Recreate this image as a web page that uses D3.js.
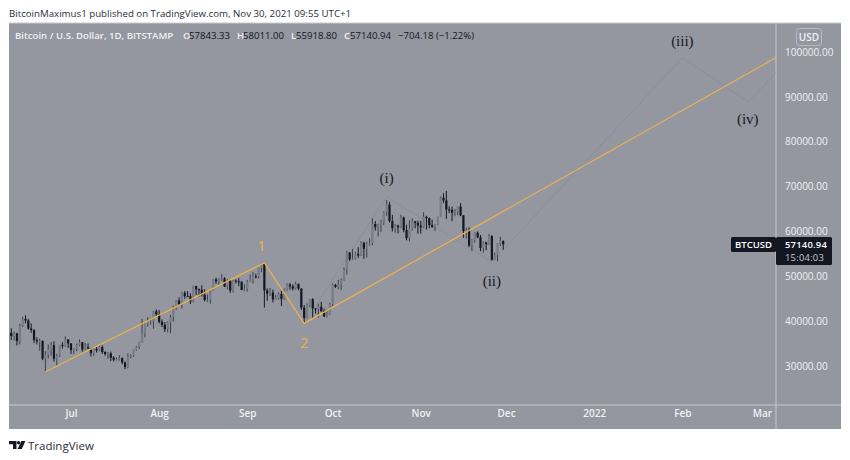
<!DOCTYPE html>
<html><head><meta charset="utf-8">
<script src="https://cdn.jsdelivr.net/npm/d3@7/dist/d3.min.js"></script>
<style>html,body{margin:0;padding:0;background:#fff;overflow:hidden}svg{display:block;font-family:"Open Sans",sans-serif}</style>
</head><body><svg id="c" width="850" height="460"></svg>
<script>
const firstDay = "2021-06-09";
const opens = [33400,37400,36700,37300,35550,39000,40500,40150,38350,38050,35800,35500,35600,31650,32500,33700,34650,31600,32250,34700,34500,35900,35050,33550,33800,34700,35300,33700,34200,33900,32850,33800,33500,34250,33100,32700,32800,31850,31400,31500,31750,30800,29800,32150,32300,33600,34250,35350,37300,39450,40000,40000,42200,41500,39850,39150,38200,39700,40850,42800,44600,43800,46300,45600,45550,44400,47800,47100,47000,45900,44700,44800,46700,49300,48850,49300,49550,47700,48950,46850,49050,48900,48800,46950,47150,48850,49300,50000,49950,51800,52700,46850,46100,46400,44850,45150,46050,44950,47100,48150,47750,47250,48300,47250,43000,40700,43550,44900,42850,42700,43200,42200,41050,41550,43800,48100,47650,48200,49200,51500,55300,53800,53900,54950,54650,57450,56150,57350,57350,61650,60900,61500,62000,64300,66000,62300,60700,61300,60900,63100,60300,58500,60600,62250,61900,61300,60900,63250,62950,61400,61000,61500,63300,67500,66900,64900,64800,64150,64400,65500,63600,60100,60350,56900,58100,59700,58700,56300,57550,57150,58950,53700,54750,57300,57843];
const closes = [37400,36700,37300,35550,39000,40500,40150,38350,38050,35800,35500,35600,31650,32500,33700,34650,31600,32250,34700,34500,35900,35050,33550,33800,34700,35300,33700,34200,33900,32850,33800,33500,34250,33100,32700,32800,31850,31400,31500,31750,30800,29800,32150,32300,33600,34250,35350,37300,39450,40000,40000,42200,41500,39850,39150,38200,39700,40850,42800,44600,43800,46300,45600,45550,44400,47800,47100,47000,45900,44700,44800,46700,49300,48850,49300,49550,47700,48950,46850,49050,48900,48800,46950,47150,48850,49300,50000,49950,51800,52700,46850,46100,46400,44850,45150,46050,44950,47100,48150,47750,47250,48300,47250,43000,40700,43550,44900,42850,42700,43200,42200,41050,41550,43800,48100,47650,48200,49200,51500,55300,53800,53900,54950,54650,57450,56150,57350,57350,61650,60900,61500,62000,64300,66000,62300,60700,61300,60900,63100,60300,58500,60600,62250,61900,61300,60900,63250,62950,61400,61000,61500,63300,67500,66900,64900,64800,64150,64400,65500,63600,60100,60350,56900,58100,59700,58700,56300,57550,57150,58950,53700,54750,57300,57843,57141];
const highs = [37500,38400,37700,37400,39400,41000,41300,40500,39500,38200,36400,36100,35700,33300,34800,35300,35500,32700,34700,35300,36600,36000,35050,33950,35000,35900,35300,35100,35000,33900,34100,34300,34600,34600,33300,33100,33200,32200,31900,32400,31900,31000,32800,32600,33650,34500,35400,40500,39500,40900,40600,42300,42600,42500,40400,39800,39950,41400,43400,44700,45300,46500,46700,46700,46200,47900,47900,47300,48000,47100,45900,47000,49400,49700,49500,50500,49800,49300,49300,49200,49300,49600,48900,48200,49200,50400,51000,50600,51900,52800,52950,47300,47400,47000,45900,46400,46800,47300,48400,48500,48200,48800,48350,47300,43600,44000,45000,45100,42900,43900,44300,42800,42600,44100,48400,48300,49200,49500,52000,55700,55300,56100,55400,56500,57800,57700,57700,58500,62900,62300,61700,62600,64500,67000,66600,63700,61700,61500,63700,63300,61500,62500,62900,62300,62400,62400,64300,63500,63100,62600,61600,63300,67800,68500,69000,65600,65500,65000,65550,66300,63600,60800,60900,58300,59800,60000,59200,57800,57700,59400,59200,55300,57400,58800,58011];
const lows = [32400,35800,35700,34600,34800,38700,39500,38100,37400,35100,34800,33400,31300,28800,31700,32300,31000,30150,32000,33900,34300,34000,32700,32700,33300,34400,33200,33500,33800,32100,32300,33000,33300,32700,32300,31600,31100,31000,31200,31200,30400,29300,29500,31700,32000,33400,33800,35200,36400,38800,39200,38300,41000,39500,38700,37600,37500,37300,39900,42500,43400,42800,45000,45400,43800,44200,45800,45500,45500,44400,44300,43900,46700,48300,48100,49000,47600,47100,46300,46400,48400,47800,46900,46700,46600,48700,48400,49500,49500,50900,43000,44500,45600,44200,44800,44800,43400,44700,46800,47000,46800,47000,46900,42500,39600,40600,43100,40800,41700,40800,42100,40900,40800,41400,43300,47400,47100,46900,49000,50400,53400,53600,53700,54100,54500,53900,54200,56800,56900,60200,58900,59900,61400,63500,62000,60000,59700,59600,60700,59800,58000,57800,60200,60700,59500,59500,60700,60400,60700,60800,60100,61400,63300,66300,62800,64100,62300,63400,63600,63400,58600,58400,56500,55600,57500,58500,55600,55300,55800,57000,53500,53600,53300,56700,55918];

const monthLabels = ["Jul","Aug","Sep","Oct","Nov","Dec","2022","Feb","Mar"];
const monthDates = ["2021-07-01","2021-08-01","2021-09-01","2021-10-01","2021-11-01","2021-12-01","2022-01-01","2022-02-01","2022-03-01"];
const priceTicks = [30000,40000,50000,60000,70000,80000,90000,100000];

const impulseDates = ["2021-06-22","2021-09-07","2021-09-21","2022-03-17"];
const impulseValues = [28700,53000,39500,102700];
const waveDates = ["2021-09-21","2021-10-20","2021-11-26","2022-02-01","2022-02-24","2022-03-10"];
const waveValues = [39500,67700,53200,98700,88900,98000];
const waveLabels = ["(i)","(ii)","(iii)","(iv)"];
const waveLabelDates = ["2021-10-20","2021-11-26","2022-02-01","2022-02-24"];
const waveLabelValues = [70800,47800,101300,83900];
const impulseLabels = ["1","2"];
const impulseLabelDates = ["2021-09-06","2021-09-21"];
const impulseLabelValues = [55600,34000];

const PANEL="#9496a0", LIGHT="#f0f1f4", DARK="#131722", UP="#797b85", ORANGE="#efb14c", SEP="#c9cad0";
const L=9,R=841,T=23,B=429,PR=776,PB=405;
const parse=d3.utcParse("%Y-%m-%d");
const x=d3.scaleUtc().domain([parse("2021-07-01"),parse("2022-03-01")]).range([71,762]);
const y=d3.scaleLinear().domain([30000,100000]).range([366,52]);
const svg=d3.select("#c");
const defs=svg.append("defs");
defs.append("clipPath").attr("id","plot").append("rect").attr("x",L).attr("y",T).attr("width",PR-L).attr("height",PB-T);

svg.append("text").attr("x",9).attr("y",16.5).attr("font-size",9.7).attr("fill","#2a2e39")
 .text("BitcoinMaximus1 published on TradingView.com, Nov 30, 2021 09:55 UTC+1");
svg.append("rect").attr("x",L).attr("y",T).attr("width",R-L).attr("height",B-T).attr("fill",PANEL);
svg.append("line").attr("x1",PR).attr("x2",PR).attr("y1",T).attr("y2",B).attr("stroke",SEP);
svg.append("line").attr("x1",L).attr("x2",R).attr("y1",PB).attr("y2",PB).attr("stroke",SEP);
svg.append("line").attr("x1",L).attr("x2",R).attr("y1",T).attr("y2",T).attr("stroke",SEP);

const plot=svg.append("g").attr("clip-path","url(#plot)");
const start=parse(firstDay);
const days=opens.map((o,i)=>({d:d3.utcDay.offset(start,i),o,c:closes[i],h:highs[i],l:lows[i]}));
const line=d3.line().x(d=>x(d[0])).y(d=>y(d[1]));

plot.append("path").datum(waveDates.map((d,i)=>[parse(d),waveValues[i]])).attr("d",line)
 .attr("fill","none").attr("stroke","#8a8c96").attr("stroke-width",0.9);

const cg=plot.append("g").selectAll("g").data(days).join("g");
cg.append("line").attr("x1",d=>x(d.d)).attr("x2",d=>x(d.d)).attr("y1",d=>y(d.h)).attr("y2",d=>y(d.l))
 .attr("stroke",d=>d.c>=d.o?"#3b3e49":DARK).attr("stroke-width",1);
cg.append("rect").attr("x",d=>x(d.d)-1.1).attr("width",2.2)
 .attr("y",d=>y(Math.max(d.o,d.c))).attr("height",d=>Math.max(1,Math.abs(y(d.o)-y(d.c))))
 .attr("fill",d=>d.c>=d.o?UP:DARK);

plot.append("path").datum(impulseDates.map((d,i)=>[parse(d),impulseValues[i]])).attr("d",line)
 .attr("fill","none").attr("stroke",ORANGE).attr("stroke-width",1.2);

svg.append("g").selectAll("text").data(waveLabels).join("text")
 .attr("x",(d,i)=>x(parse(waveLabelDates[i]))).attr("y",(d,i)=>y(waveLabelValues[i]))
 .attr("text-anchor","middle").attr("font-family","'Liberation Serif',serif").attr("font-size",15).attr("fill","#15181f").text(d=>d);
svg.append("g").selectAll("text").data(impulseLabels).join("text")
 .attr("x",(d,i)=>x(parse(impulseLabelDates[i]))).attr("y",(d,i)=>y(impulseLabelValues[i]))
 .attr("text-anchor","middle").attr("font-size",15).attr("font-weight",500).attr("fill",ORANGE).text(d=>d);

const hdr=svg.append("g").attr("font-size",9.6);
[["Bitcoin / U.S. Dollar, 1D, BITSTAMP",15,LIGHT,600],["O",183,LIGHT,600],["57843.33",189,DARK,400],["H",237,LIGHT,600],["58011.00",243,DARK,400],["L",291,LIGHT,600],["55918.80",296,DARK,400],["C",344,LIGHT,600],["57140.94",350,DARK,400],["\u2212704.18 (\u22121.22%)",398,DARK,400]]
 .forEach(a=>hdr.append("text").attr("x",a[1]).attr("y",39).attr("fill",a[2]).attr("font-weight",a[3]).text(a[0]));

const yAxis=d3.axisRight(y).tickValues(priceTicks).tickSize(0).tickPadding(0).tickFormat(d3.format(".2f"));
const yg=svg.append("g").attr("transform","translate(785,0)").call(yAxis);
yg.select(".domain").remove();
yg.selectAll("text").attr("fill",LIGHT).attr("font-size",10).attr("font-family","'Open Sans',sans-serif").attr("font-weight",500);

const xAxis=d3.axisBottom(x).tickValues(monthDates.map(parse)).tickSize(0).tickPadding(0).tickFormat((d,i)=>monthLabels[i]);
const xg=svg.append("g").attr("transform","translate(0,410)").call(xAxis);
xg.select(".domain").remove();
xg.selectAll("text").attr("fill",LIGHT).attr("font-size",10).attr("font-family","'Open Sans',sans-serif").attr("font-weight",600);

svg.append("rect").attr("x",796.5).attr("y",28.5).attr("width",25).attr("height",17).attr("rx",3).attr("fill","none").attr("stroke","#b9bac1");
svg.append("text").attr("x",809).attr("y",40.5).attr("text-anchor","middle").attr("font-size",10).attr("font-weight",600).attr("fill",LIGHT).text("USD");

svg.append("rect").attr("x",731).attr("y",237).attr("width",45).attr("height",15).attr("rx",1.5).attr("fill",DARK);
svg.append("rect").attr("x",776).attr("y",237).attr("width",56).attr("height",28).attr("rx",1.5).attr("fill",DARK);
svg.append("text").attr("x",735).attr("y",248).attr("font-size",9.5).attr("font-weight",600).attr("fill","#fff").text("BTCUSD");
svg.append("text").attr("x",785).attr("y",247.5).attr("font-size",9.4).attr("letter-spacing",0.25).attr("font-weight",600).attr("fill","#fff").text("57140.94");
svg.append("text").attr("x",785).attr("y",260.5).attr("font-size",9.4).attr("letter-spacing",0.25).attr("fill","#c5c7cd").text("15:04:03");

const logo=svg.append("g").attr("transform","translate(9,441)").attr("fill","#131722");
logo.append("path").attr("d","M0 0H7.5V8H4V3.2H0Z");
logo.append("circle").attr("cx",9.6).attr("cy",1.7).attr("r",1.7);
logo.append("path").attr("d","M12.4 0H16.4L12.8 8H8.6Z");
svg.append("text").attr("x",28).attr("y",449.5).attr("font-size",11.5).attr("fill","#2a2e39").text("TradingView");
</script></body></html>
